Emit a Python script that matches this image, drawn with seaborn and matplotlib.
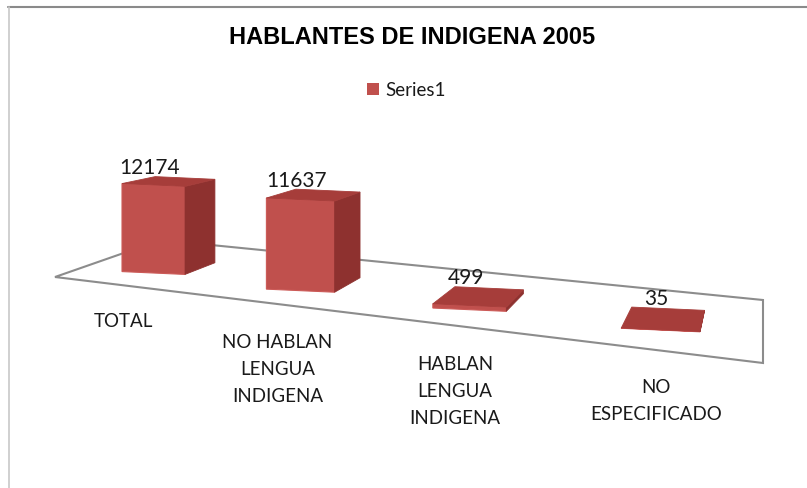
import numpy as np
import pandas as pd
import matplotlib
matplotlib.use("Agg")
import matplotlib.pyplot as plt
import matplotlib.transforms as mtransforms
from matplotlib.patches import Polygon
from matplotlib.lines import Line2D
import seaborn as sns

# ---------------- data ----------------
categories = ["TOTAL", "NO HABLAN\nLENGUA\nINDIGENA", "HABLAN\nLENGUA\nINDIGENA", "NO\nESPECIFICADO"]
values = [12174, 11637, 499, 35]
series_label = "Series1"
title_text = "HABLANTES DE INDIGENA 2005"

# ---------------- style ----------------
W, H, DPI = 807, 488, 100
sns.set_theme(style="white")
plt.rcParams["font.family"] = ["Lato", "DejaVu Sans"]

FRONT = "#C0504D"
SIDE = "#8E312F"
TOP = "#A63D3A"
FLOOR_EDGE = "#8C8C8C"
TEXT = "#1a1a1a"

fig = plt.figure(figsize=(W / DPI, H / DPI), dpi=DPI)
fig.patch.set_facecolor("white")
ax = fig.add_axes([0, 0, 1, 1])
ax.set_facecolor("none")

df = pd.DataFrame({"categoria": categories, "valor": values})
sns.barplot(data=df, x="categoria", y="valor", color=FRONT, saturation=1,
            width=0.375, errorbar=None, label=series_label, ax=ax,
            zorder=3, linewidth=0)

leg = ax.legend(loc="center", bbox_to_anchor=(406.5 / W, 1 - 90 / H),
                bbox_transform=fig.transFigure, frameon=False,
                handlelength=0.65, handleheight=0.65, handletextpad=0.35,
                fontsize=13.5, borderpad=0)
for t in leg.get_texts():
    t.set_color(TEXT)

# ---------------- layout: linear mapping (pixels from image top-left) ----------------
X0, DX, Y0 = 153.5, 168.0, 280.0
S = 0.00723  # pixels per unit of value
ax.set_xlim(-X0 / DX, (W - X0) / DX)
ax.set_ylim(-(H - Y0) / S, Y0 / S)
ax.axis("off")

VP = np.array([760.0, H - 50.0])   # vanishing point (display coords)
ident = mtransforms.IdentityTransform()

# floor of the 3-D plot area
floor = Polygon([(55, H - 277), (763, H - 363), (763, H - 300), (161, H - 240)],
                closed=True, transform=ident, fc="white", ec=FLOOR_EDGE,
                lw=1.5, zorder=1, clip_on=False)
ax.add_artist(floor)

bars = ax.patches[:len(values)]
for i, (patch, val, cat) in enumerate(zip(bars, values, categories)):
    p = 1 + 0.083 * i
    cx = X0 + 136 * (i + 0.081 * i * i)
    base = 273 + 17 * i + 0.67 * i * i
    t = 0.052 + 0.0077 * i
    aff = (mtransforms.Affine2D()
           .translate(-(X0 + DX * i), -(H - Y0))
           .scale(p)
           .skew(0, -np.arctan(0.045))
           .translate(cx, H - base))
    patch.set_transform(ax.transData + aff)
    bl, br, tr, tl = patch.get_verts()[:4]

    def back(q, t=t):
        return q + t * (VP - q)

    side = Polygon([br, tr, back(tr), back(br)], closed=True, transform=ident,
                   fc=SIDE, ec=SIDE, lw=0.6, zorder=3, clip_on=False)
    top = Polygon([tl, tr, back(tr), back(tl)], closed=True, transform=ident,
                  fc=TOP, ec=TOP, lw=0.6, zorder=3, clip_on=False)
    ax.add_artist(side)
    ax.add_artist(top)
    patch.set_edgecolor("#CC5A57")
    patch.set_linewidth(0.8)

    # value label
    tc = (tl + tr) / 2
    bt = back(tc)
    ax.text(tc[0] - 4, bt[1] + 10, f"{val}", transform=ident, ha="center",
            va="center", fontsize=15, color=TEXT, zorder=5)

    # category label
    bc = (bl + br) / 2
    fwd = bc - 0.05 * (VP - bc)
    ax.text(fwd[0], fwd[1] - 29 - 2 * i, cat, transform=ident, ha="center", va="top",
            multialignment="center", fontsize=13.5, linespacing=1.72,
            color=TEXT, zorder=5)

# title
fig.text(412.5 / W, 1 - 38 / H, title_text, ha="center", va="center",
         fontsize=17, fontweight="bold", color="black",
         family=["Liberation Sans", "DejaVu Sans"])

# chart frame lines
fig.add_artist(Line2D([8 / W, 1], [1 - 7 / H, 1 - 7 / H], transform=fig.transFigure,
                      color="#8A8A8A", lw=1.5))
fig.add_artist(Line2D([9 / W, 9 / W], [0, 1 - 7 / H], transform=fig.transFigure,
                      color="#C8C8C8", lw=1.2))

fig.savefig("out.png", dpi=DPI, facecolor="white")
